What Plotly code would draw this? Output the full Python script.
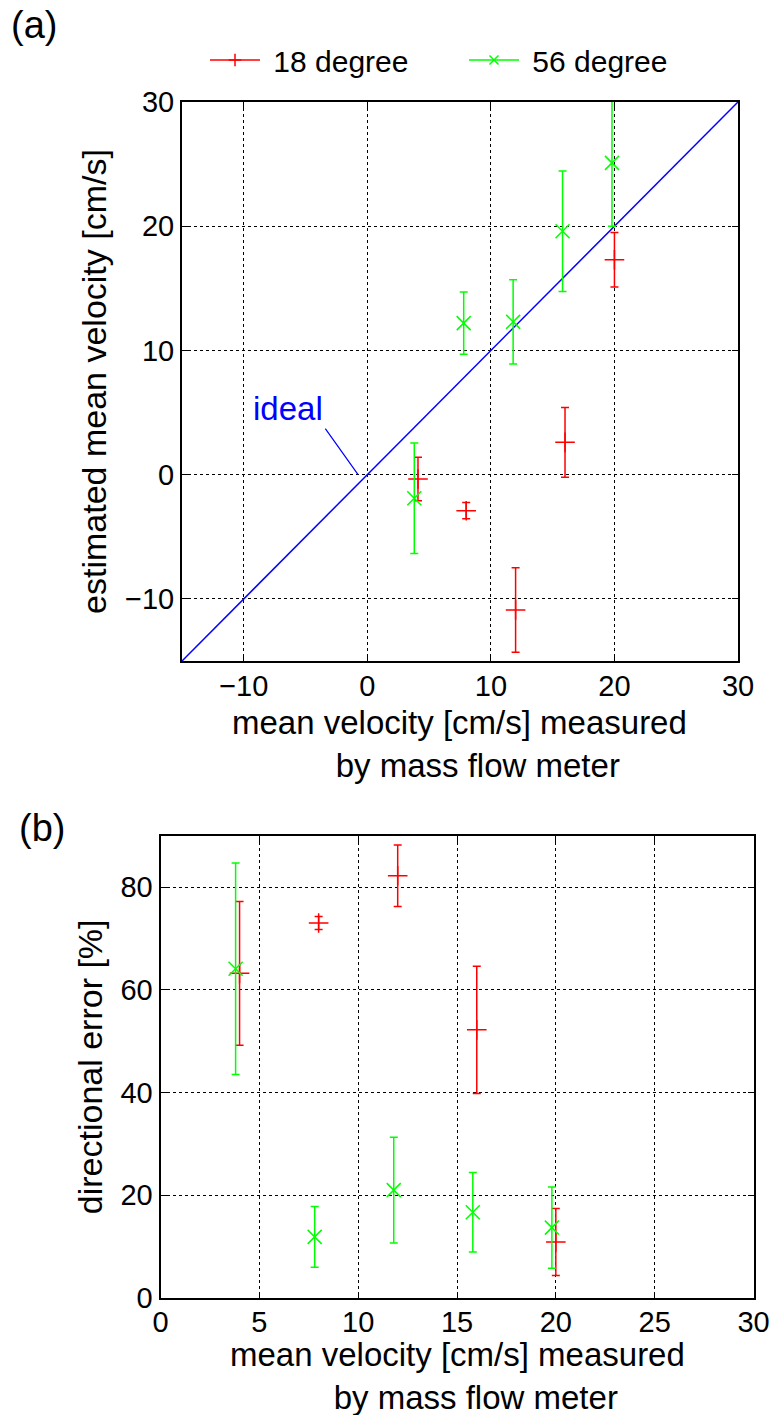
import plotly.graph_objects as go

# ---------------- data ----------------
# panel (a): estimated vs measured mean velocity [cm/s]
red_a_x = [4.1, 8, 12, 16, 20]
red_a_y = [-0.35, -2.9, -10.9, 2.6, 17.3]
red_a_err = [1.75, 0.65, 3.4, 2.8, 2.2]

green_a_x = [3.8, 7.8, 11.8, 15.8, 19.8]
green_a_y = [-1.9, 12.2, 12.3, 19.6, 25.1]
green_a_err = [4.45, 2.5, 3.4, 4.85, 5.1]

ideal_x = [-15, 30]
ideal_y = [-15, 30]

# panel (b): directional error [%]
red_b_x = [4, 8, 12, 16, 20]
red_b_y = [63.2, 73.0, 82.2, 52.2, 10.9]
red_b_err = [14.0, 1.25, 6.0, 12.4, 6.5]

green_b_x = [3.8, 7.8, 11.8, 15.8, 19.8]
green_b_y = [64.1, 11.9, 21.0, 16.7, 13.7]
green_b_err = [20.6, 5.9, 10.3, 7.75, 7.9]

series_names = ["18 degree", "56 degree"]
a_xticks = [-10, 0, 10, 20, 30]
a_yticks = [-10, 0, 10, 20, 30]
b_xticks = [0, 5, 10, 15, 20, 25, 30]
b_yticks = [0, 20, 40, 60, 80]

RED = "#ff0000"
GREEN = "#00ff00"
BLUE = "#0000ff"
FONT = "Liberation Sans, Arial, sans-serif"
NB = "\u00a0"

W, H = 776, 1415

fig = go.Figure()


def err_trace(x, y, e, color, symbol, xa, ya):
    return go.Scatter(
        x=x, y=y, mode="markers", xaxis=xa, yaxis=ya, showlegend=False,
        marker=dict(symbol=symbol, size=14, color=color,
                    line=dict(color=color, width=1.5)),
        error_y=dict(type="data", array=e, visible=True, color=color,
                     thickness=1.5, width=4),
        cliponaxis=True,
    )


# panel (a)
fig.add_trace(go.Scatter(x=ideal_x, y=ideal_y, mode="lines", xaxis="x", yaxis="y",
                         line=dict(color=BLUE, width=1.5), showlegend=False))
fig.add_trace(err_trace(red_a_x, red_a_y, red_a_err, RED, "cross-thin", "x", "y"))
fig.add_trace(err_trace(green_a_x, green_a_y, green_a_err, GREEN, "x-thin", "x", "y"))

# panel (b)
fig.add_trace(err_trace(red_b_x, red_b_y, red_b_err, RED, "cross-thin", "x2", "y2"))
fig.add_trace(err_trace(green_b_x, green_b_y, green_b_err, GREEN, "x-thin", "x2", "y2"))

# legend-only entries
for name, color, sym in zip(series_names, [RED, GREEN], ["cross-thin", "x-thin"]):
    fig.add_trace(go.Scatter(
        x=[None], y=[None], mode="lines+markers", name=NB + name, xaxis="x", yaxis="y",
        line=dict(color=color, width=1.5),
        marker=dict(symbol=sym, size=9, color=color, line=dict(color=color, width=1.5)),
    ))

axis_common = dict(
    showline=True, linecolor="black", linewidth=2, mirror="ticks",
    ticks="inside", ticklen=6, tickcolor="black", tickwidth=1,
    showgrid=True, gridcolor="black", griddash="dot", gridwidth=1,
    zeroline=False, automargin=False,
    tickfont=dict(family=FONT, size=29, color="black"),
    title_font=dict(family=FONT, size=34, color="black"),
)

xa_dom = [182 / W, 738 / W]
ya_dom = [1 - 661 / H, 1 - 102 / H]
xb_dom = [160.5 / W, 753.5 / W]
yb_dom = [1 - 1298 / H, 1 - 835.7 / H]

xtitle = "mean velocity [cm/s] measured<br>" + NB * 4 + "by mass flow meter"
TITLE_FONT = dict(family=FONT, size=33, color="black")

fig.update_layout(
    width=W, height=H,
    margin=dict(l=0, r=0, t=0, b=0, pad=0, autoexpand=False),
    paper_bgcolor="white", plot_bgcolor="white",
    font=dict(family=FONT, color="black"),
    xaxis=dict(domain=xa_dom, range=[-15, 30], tickvals=a_xticks, anchor="y",
               ticklabelstandoff=-2, **axis_common),
    yaxis=dict(domain=ya_dom, range=[-15, 30], tickvals=a_yticks, anchor="x",
               title=dict(text="estimated mean velocity [cm/s]", standoff=8),
               **axis_common),
    xaxis2=dict(domain=xb_dom, range=[0, 30], tickvals=b_xticks, anchor="y2",
                ticklabelstandoff=-3, **axis_common),
    yaxis2=dict(domain=yb_dom, range=[0, 90], tickvals=b_yticks, anchor="x2",
                title=dict(text="directional error [%]", standoff=8),
                **axis_common),
    legend=dict(orientation="h", x=205 / W, y=1 - 60 / H, xanchor="left", yanchor="middle",
                font=dict(family=FONT, size=30, color="black"),
                itemwidth=50, entrywidth=194, entrywidthmode="pixels",
                bgcolor="rgba(0,0,0,0)", tracegroupgap=0),
    annotations=[
        dict(text="(a)", xref="paper", yref="paper", x=34 / W, y=1 - 25 / H,
             xanchor="center", yanchor="middle",
             showarrow=False, font=dict(family=FONT, size=38, color="black")),
        dict(text="(b)", xref="paper", yref="paper", x=42 / W, y=1 - 828 / H,
             xanchor="center", yanchor="middle",
             showarrow=False, font=dict(family=FONT, size=38, color="black")),
        dict(text="ideal", xref="x", yref="y", x=-0.75, y=0, axref="x", ayref="y",
             ax=-3.4, ay=3.7, xanchor="right", yanchor="bottom",
             showarrow=True, arrowhead=0, arrowwidth=1.2, arrowcolor=BLUE, standoff=0,
             font=dict(family=FONT, size=33, color=BLUE)),
        # x-axis titles (two lines each)
        dict(text=xtitle, xref="x domain", yref="y domain", x=0.5, y=0,
             xanchor="center", yanchor="top", yshift=-41, showarrow=False,
             font=TITLE_FONT),
        dict(text=xtitle, xref="x2 domain", yref="y2 domain", x=0.5, y=0,
             xanchor="center", yanchor="top", yshift=-36, showarrow=False,
             font=TITLE_FONT),
    ],
)

fig.write_html("out.html")
